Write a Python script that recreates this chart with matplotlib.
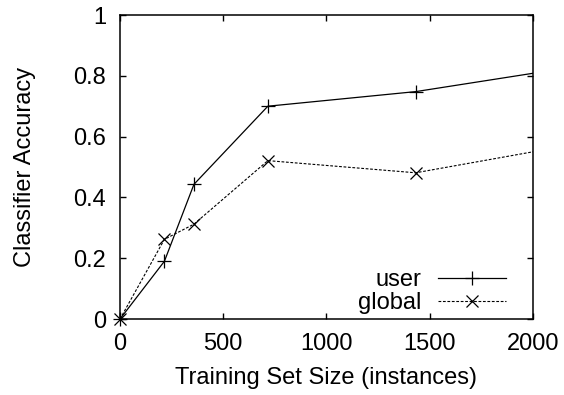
import matplotlib
matplotlib.use("Agg")
import matplotlib.pyplot as plt
import numpy as np

plt.rcParams['font.family'] = ['Liberation Sans', 'DejaVu Sans']

# training set sizes (instances) and accuracies
sizes = np.array([0, 215, 358, 716, 1432, 2864])
user_acc = np.array([0.0, 0.19, 0.443, 0.70, 0.748, 0.90])
global_acc = np.array([0.0, 0.262, 0.312, 0.521, 0.481, 0.655])

x_ticks = [0, 500, 1000, 1500, 2000]
y_ticks = [0, 0.2, 0.4, 0.6, 0.8, 1]
y_labels = ["0", "0.2", "0.4", "0.6", "0.8", "1"]

fs = 17

fig = plt.figure(figsize=(5.64, 3.95), dpi=100)
ax = fig.add_axes([0.2128, 0.1924, 0.7322, 0.7696])

vis = sizes <= 2000

# lines (clipped at the frame) + markers (not clipped)
ax.plot(sizes, user_acc, color="black", lw=0.9)
ax.plot(sizes, global_acc, color="black", lw=0.8, dashes=(2.5, 1.5))
ax.plot(sizes[vis], user_acc[vis], ls="none", marker="+", ms=10, mew=0.9,
        color="black", clip_on=False)
ax.plot(sizes[vis], global_acc[vis], ls="none", marker="x", ms=8, mew=0.9,
        color="black", clip_on=False)

# legend handles
ax.plot([], [], color="black", lw=0.9, marker="+", ms=10, mew=0.9, label="user")
ax.plot([], [], color="black", lw=0.8, dashes=(2.5, 1.5), marker="x", ms=8,
        mew=0.9, label="global")
handles, labels = ax.get_legend_handles_labels()
ax.legend(handles[-2:], labels[-2:], loc="lower right", frameon=False,
          markerfirst=False, fontsize=fs, handlelength=2.85, handletextpad=0.7,
          labelspacing=0.05, borderpad=0.2, borderaxespad=0,
          bbox_to_anchor=(0.945, 0.0))

ax.set_xlim(0, 2000)
ax.set_ylim(0, 1)
ax.set_xticks(x_ticks)
ax.set_yticks(y_ticks)
ax.set_yticklabels(y_labels)
ax.tick_params(direction="in", length=4, width=1, top=True, right=True,
               labelsize=fs, pad=10)
for s in ax.spines.values():
    s.set_linewidth(1.1)

ax.set_xlabel("Training Set Size (instances)", fontsize=fs, labelpad=9)
ax.set_ylabel("Classifier Accuracy", fontsize=fs, labelpad=27)

fig.savefig("out.png", dpi=100)
